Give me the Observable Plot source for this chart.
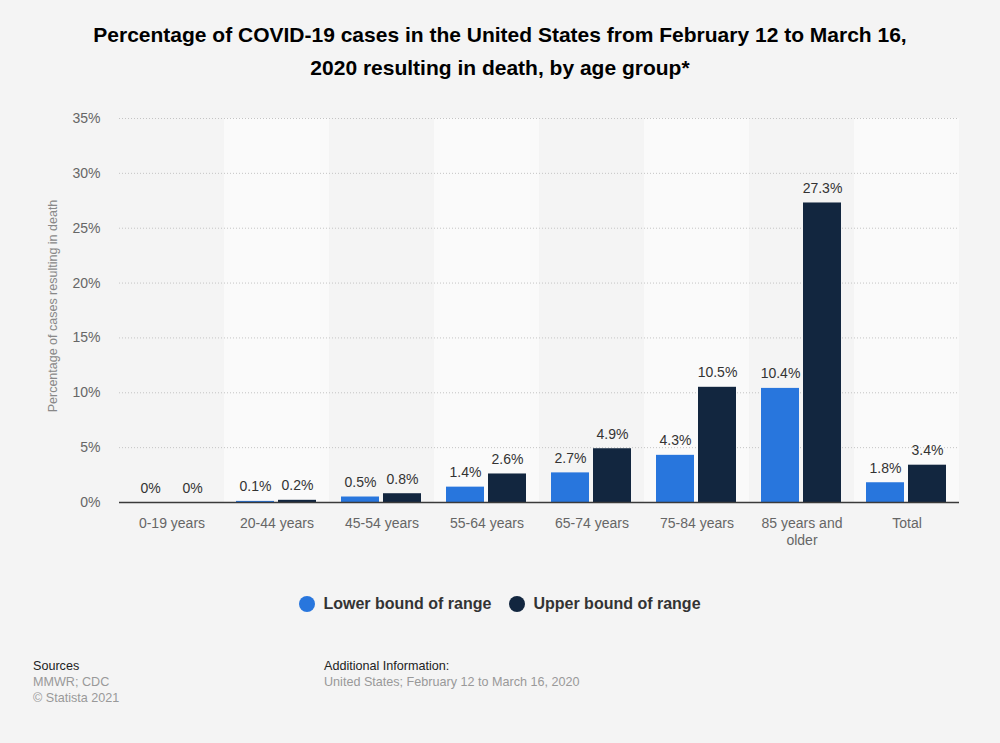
<!DOCTYPE html>
<html>
<head>
<meta charset="utf-8">
<script src="https://cdn.jsdelivr.net/npm/d3@7"></script>
<script src="https://cdn.jsdelivr.net/npm/@observablehq/plot@0.6"></script>
<style>
  html, body { margin: 0; padding: 0; }
  body {
    width: 1000px; height: 743px; position: relative; overflow: hidden;
    background: #f4f4f4; font-family: "Liberation Sans", Arial, sans-serif;
  }
  #title {
    position: absolute; left: 0; top: 18px; width: 1000px; text-align: center;
    font-size: 21px; font-weight: bold; line-height: 33px; color: #000;
  }
  #chart { position: absolute; left: 0; top: 100px; }
  #ylabel {
    position: absolute; left: 53px; top: 306px; transform: translate(-50%, -50%) rotate(-90deg);
    white-space: nowrap; font-size: 12.5px; color: #888;
  }
  #legend {
    position: absolute; left: 0; top: 595px; width: 1000px;
    display: flex; justify-content: center; gap: 18px;
    font-size: 16px; font-weight: bold; color: #333;
  }
  #legend .item { display: flex; align-items: center; gap: 8px; }
  #legend .dot { width: 16px; height: 16px; border-radius: 50%; display: inline-block; }
  .foot { position: absolute; font-size: 12.6px; line-height: 16px; color: #999; }
  .foot .head { color: #222; }
</style>
</head>
<body>
<div id="title">Percentage of COVID-19 cases in the United States from February 12 to March 16,<br>2020 resulting in death, by age group*</div>
<div id="chart"></div>
<div id="ylabel">Percentage of cases resulting in death</div>
<div id="legend"></div>
<div class="foot" style="left:33px; top:658px;"><div class="head">Sources</div>MMWR; CDC<br>© Statista 2021</div>
<div class="foot" style="left:324px; top:658px;"><div class="head">Additional Information:</div>United States; February 12 to March 16, 2020</div>
<script>
// Age groups and the reported case-fatality range (percent)
const ageGroups = ["0-19 years", "20-44 years", "45-54 years", "55-64 years", "65-74 years", "75-84 years", "85 years and older", "Total"];
const lowerBound = [0, 0.1, 0.5, 1.4, 2.7, 4.3, 10.4, 1.8];
const upperBound = [0, 0.2, 0.8, 2.6, 4.9, 10.5, 27.3, 3.4];
const seriesNames = ["Lower bound of range", "Upper bound of range"];
const seriesColors = ["#2876dd", "#12263f"];
const yTicks = [0, 5, 10, 15, 20, 25, 30, 35];

const rows = ageGroups.flatMap((g, i) => [
  {group: g, series: seriesNames[0], value: lowerBound[i]},
  {group: g, series: seriesNames[1], value: upperBound[i]}
]);
// every second column gets a lighter background stripe
const stripes = ageGroups.filter((g, i) => i % 2 === 1);

const chart = Plot.plot({
  width: 1000,
  height: 460,
  marginTop: 18,
  marginBottom: 58,
  marginLeft: 118,
  marginRight: 40,
  style: {background: "transparent", fontFamily: "Liberation Sans, Arial, sans-serif"},
  fx: {domain: ageGroups, padding: 0},
  x: {domain: seriesNames, paddingInner: 0.09, paddingOuter: 0.27, axis: null},
  y: {domain: [0, 35], axis: null},
  color: {domain: seriesNames, range: seriesColors},
  marks: [
    Plot.rect(stripes, {fx: d => d, fill: "#fafafa"}),
    Plot.gridY({ticks: yTicks, stroke: "#c4c4c4", strokeOpacity: 1, strokeDasharray: "1,2"}),
    Plot.barY(rows, {fx: "group", x: "series", y: "value", fill: "series"}),
    Plot.ruleY([0], {stroke: "#3a3a3a", strokeWidth: 1.5}),
    Plot.text(rows, {
      fx: "group", x: "series", y: "value",
      text: d => d.value + "%",
      lineAnchor: "bottom", dy: -10, fill: "#333", fontSize: 14
    }),
    Plot.axisY({
      ticks: yTicks, tickFormat: d => d + "%", tickSize: 0, tickPadding: 19,
      fontSize: 14, fill: "#666", label: null
    }),
    Plot.axisFx({
      anchor: "bottom", tickSize: 0, tickPadding: 14, label: null, fontSize: 14, fill: "#666",
      lineHeight: 1.2,
      tickFormat: d => d === "85 years and older" ? "85 years and\nolder" : d
    })
  ]
});
document.getElementById("chart").appendChild(chart);

const legend = document.getElementById("legend");
seriesNames.forEach((name, i) => {
  const item = document.createElement("div");
  item.className = "item";
  const dot = document.createElement("span");
  dot.className = "dot";
  dot.style.background = seriesColors[i];
  const label = document.createElement("span");
  label.textContent = name;
  item.append(dot, label);
  legend.appendChild(item);
});
</script>
</body>
</html>
